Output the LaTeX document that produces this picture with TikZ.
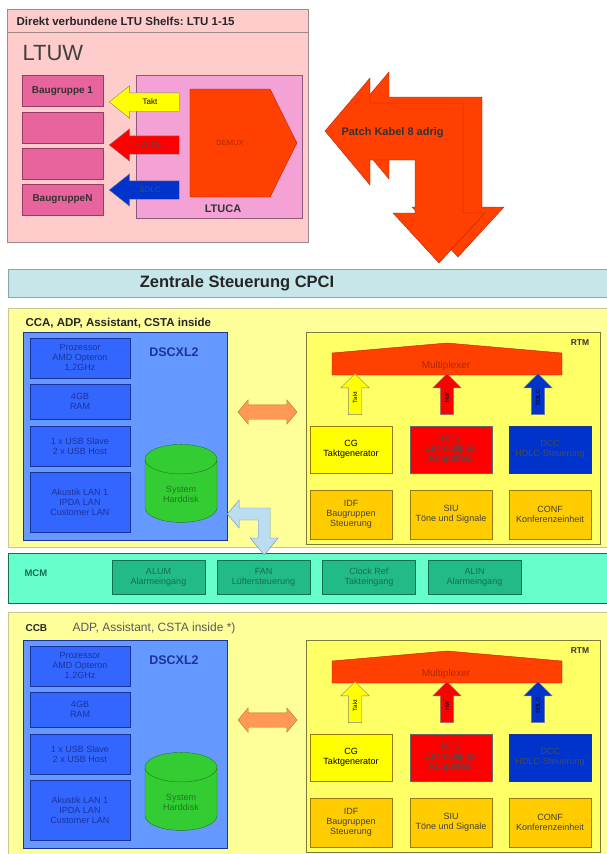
\documentclass[tikz,border=0pt]{standalone}
\usepackage{fontspec}
\setmainfont{Liberation Sans}
\usepackage{xcolor}
\usepackage{tikz}
\usetikzlibrary{shapes.geometric, shapes.arrows, shapes.symbols, calc}
\definecolor{ltupink}{HTML}{FFCCCC}
\definecolor{ltuline}{HTML}{A08888}
\definecolor{bgpink}{HTML}{E8649C}
\definecolor{bgline}{HTML}{9C3A66}
\definecolor{ucapink}{HTML}{F4A2D6}
\definecolor{ucaline}{HTML}{8C5A7C}
\definecolor{hotred}{HTML}{FF4000}
\definecolor{hotline}{HTML}{B02800}
\definecolor{taktyel}{HTML}{FFFF00}
\definecolor{hwred}{HTML}{FF0000}
\definecolor{sdlcblue}{HTML}{0033CC}
\definecolor{cpcibg}{HTML}{C6E6EA}
\definecolor{cpciline}{HTML}{8AA6AC}
\definecolor{ccyel}{HTML}{FFFF99}
\definecolor{ccline}{HTML}{C8C890}
\definecolor{rtmyel}{HTML}{FFFF66}
\definecolor{rtmline}{HTML}{7A7A3A}
\definecolor{dsclight}{HTML}{6699FF}
\definecolor{dscdark}{HTML}{3366FF}
\definecolor{dscline}{HTML}{1A3399}
\definecolor{hddgreen}{HTML}{33CC33}
\definecolor{hddline}{HTML}{1E7A1E}
\definecolor{orarrow}{HTML}{FF9955}
\definecolor{orline}{HTML}{B86A30}
\definecolor{lbarrow}{HTML}{BCDDF0}
\definecolor{lbline}{HTML}{6F8FA0}
\definecolor{funcorange}{HTML}{FFCC00}
\definecolor{funcline}{HTML}{9A7A10}
\definecolor{mcmbg}{HTML}{66FFCC}
\definecolor{mcmdark}{HTML}{22BB88}
\definecolor{mcmline}{HTML}{146E50}
\frenchspacing

\begin{document}
\begin{tikzpicture}[x=1pt, y=-1pt,
    tiny/.style={font=\fontsize{9}{10}\selectfont},
    box/.style={draw, rectangle, inner sep=1pt, align=center, tiny},
    cpu/.style={box, fill=dscdark, draw=dscline, text=dscline, minimum width=100},
    rtmbox/.style={box, minimum width=82},
    mcmbox/.style={box, fill=mcmdark, draw=mcmline, text=mcmline, minimum width=93, minimum height=34},
    bgr/.style={box, fill=bgpink, draw=bgline, text=black!80, minimum width=81, minimum height=31,
        font=\bfseries\fontsize{10}{11}\selectfont},
    lefthead/.style={single arrow, shape border rotate=180, draw, minimum height=70,
        single arrow head extend=7pt, single arrow tip angle=77, inner xsep=2pt,
        text height=5.5pt, text depth=1.5pt, inner ysep=5.5pt, font=\fontsize{8}{8}\selectfont},
    uphead/.style={single arrow, rotate=90, draw, minimum height=41,
        single arrow head extend=7.5pt, inner xsep=1pt, text height=4.5pt, text depth=0.5pt,
        inner ysep=4pt, font=\fontsize{6}{6}\selectfont},
    twohead/.style={double arrow, draw=orline, fill=orarrow, minimum height=59,
        double arrow head extend=5pt, double arrow tip angle=100, inner sep=0pt, inner ysep=7pt},
    title/.style={font=\bfseries\fontsize{#1}{#1}\selectfont}
  ]
\useasboundingbox (0,0) rectangle (607,854);

% LTUW Shelf
\node[draw=ltuline, fill=ltupink, rectangle, minimum width=301, minimum height=233] (ltuw) at (157.5,125.5) {};
\draw[ltuline] (ltuw.west |- 0,32) -- (ltuw.east |- 0,32);
\node[title=11.5, anchor=west, text=black!85] (ltuhead) at (13,21) {Direkt verbundene LTU Shelfs: LTU 1-15};
\node[font=\fontsize{22}{22}\selectfont, anchor=west, text=black!75] (ltutitle) at (19,53) {LTUW};

% Baugruppen
\node[bgr] (bg1) at (62.5,91) {Baugruppe 1};
\node[bgr] (bg2) at (62.5,127.5) {};
\node[bgr] (bg3) at (62.5,163.5) {};
\node[bgr] (bgN) at (62.5,199.5) {BaugruppeN};

% LTUCA
\node[draw=ucaline, fill=ucapink, rectangle, minimum width=166, minimum height=143] (ltuca) at (219,146.5) {};
\node[title=11, text=black!80] (ltucalab) at (223,209) {LTUCA};
\node[signal, signal to=east, signal pointer angle=127, draw=hotline, fill=hotred,
      minimum width=107, minimum height=108, inner sep=0pt, font=\fontsize{7.5}{8}\selectfont,
      text=hotline] (demux) at (230,143) {DEMUX};
\node[lefthead, fill=taktyel, draw=black!50] (ltakt) at (150,102) {Takt};
\node[lefthead, fill=hwred, draw=black!50, text=black!70] (lhw) at (150,145) {HW TSL};
\node[lefthead, fill=sdlcblue, draw=black!50, text=black!70] (lsdlc) at (150,190) {SDLC};

% Patch Kabel
\foreach \sx/\sy in {19/-6, 0/0}
  \filldraw[fill=hotred, draw=hotline, shift={(\sx,\sy)}]
    (325,131) -- (370,78) -- (370,103) -- (463,103) -- (463,213) -- (485,213) -- (439,263)
    -- (393,213) -- (415,213) -- (415,160) -- (370,160) -- (370,185) -- cycle;
\node[title=11, anchor=west, text=black!80] (patch) at (338,133) {Patch Kabel 8 adrig};

% Zentrale Steuerung
\node[draw=cpciline, fill=cpcibg, rectangle, minimum width=612, minimum height=28] (cpci) at (314,283) {};
\node[title=16.5, text=black!85] (cpcilab) at (237,283) {Zentrale Steuerung CPCI};

% CCA / CCB / MCM
\node[draw=ccline, fill=ccyel, rectangle, minimum width=612, minimum height=239] (cca) at (314,427.5) {};
\node[draw=mcmline, fill=mcmbg, rectangle, minimum width=612, minimum height=50] (mcm) at (314,578) {};
\node[draw=ccline, fill=ccyel, rectangle, minimum width=612, minimum height=270] (ccb) at (314,747) {};

\node[title=11.5, anchor=west, text=black!85] (ccalab) at (22,323) {CCA, ADP, Assistant, CSTA inside};
\node[title=10, anchor=west, text=black!85] (ccblab) at (22,628) {CCB};
\node[font=\fontsize{12}{12}\selectfont, anchor=west, text=black!65] (ccbtxt) at (69,628) {ADP, Assistant, CSTA inside *)};

\foreach \s/\dy in {a/0, b/308}{
  \begin{scope}[shift={(0,\dy)}]
    % DSCXL2
    \node[draw=dscline, fill=dsclight, rectangle, minimum width=204, minimum height=208] (dsc\s) at (125,436) {};
    \node[title=12.5, text=dscline] (dsclab\s) at (174,352) {DSCXL2};
    \node[cpu, minimum height=40] (cpu\s) at (80,358) {Prozessor\\AMD Opteron\\1,2GHz};
    \node[cpu, minimum height=35] (ram\s) at (80,401.5) {4GB\\RAM};
    \node[cpu, minimum height=40] (usb\s) at (80,446) {1 x USB Slave\\2 x USB Host};
    \node[cpu, minimum height=60] (lan\s) at (80,502) {Akustik LAN 1\\IPDA LAN\\Customer LAN};
    \node[cylinder, shape border rotate=90, aspect=0.7, draw=hddline, fill=hddgreen,
          minimum width=72, minimum height=78, align=center, tiny, text=hddline] (hdd\s) at (181,494) {System\\Harddisk};
    \node[twohead] (bus\s) at (267.5,412) {};

    % RTM
    \node[draw=rtmline, fill=rtmyel, rectangle, minimum width=294, minimum height=212] (rtm\s) at (453,438) {};
    \node[title=8.5, text=black!80] (rtmlab\s) at (580,343) {RTM};
    \filldraw[fill=hotred, draw=hotline] (332,353) -- (447,343) -- (562,353) -- (562,375) -- (332,375) -- cycle;
    \node[font=\fontsize{10}{10}\selectfont, text=hotline] (mux\s) at (446,366) {Multiplexer};
    \node[uphead, fill=taktyel, draw=black!50] (utakt\s) at (355,397.5) {Takt};
    \node[uphead, fill=hwred, draw=black!50] (uhw\s) at (447,397.5) {HW};
    \node[uphead, fill=sdlcblue, draw=black!50] (usdlc\s) at (538,397.5) {SDLC};
    \node[rtmbox, fill=taktyel, draw=funcline, minimum height=47] (cg\s) at (351,449.5) {CG\\Taktgenerator};
    \node[rtmbox, fill=hwred, draw=black!60, text=black!70, minimum height=47] (mts\s) at (451,449.5) {MTS\\Zeitmultiplex\\Koppelfeld};
    \node[rtmbox, fill=sdlcblue, draw=dscline, text=black!70, minimum height=47] (dcc\s) at (550,449.5) {DCC\\HDLC-Steuerung};
    \node[rtmbox, fill=funcorange, draw=funcline, text=black!75, minimum height=49] (idf\s) at (351,514.5) {IDF\\Baugruppen\\Steuerung};
    \node[rtmbox, fill=funcorange, draw=funcline, text=black!75, minimum height=49] (siu\s) at (451,514.5) {SIU\\Töne und Signale};
    \node[rtmbox, fill=funcorange, draw=funcline, text=black!75, minimum height=49] (conf\s) at (550,514.5) {CONF\\Konferenzeinheit};
  \end{scope}
}

% DSCXL2 -- MCM
\coordinate (lbtip) at (dsca.east |- 0,514);
\filldraw[fill=lbarrow, draw=lbline] (lbtip) -- ++(12,-14) -- ++(0,8) -- ++(31,0) -- ++(0,30)
  -- ++(8,0) -- ++(-14,17) -- ++(-14,-17) -- ++(8,0) -- ++(0,-18) -- ++(-19,0) -- ++(0,8) -- cycle;

% MCM
\node[title=9.5, anchor=west, text=mcmline] (mcmlab) at (21,573) {MCM};
\node[mcmbox] (alum) at (158.5,577) {ALUM\\Alarmeingang};
\node[mcmbox] (fan) at (263.5,577) {FAN\\Lüftersteuerung};
\node[mcmbox] (clk) at (369,577) {Clock Ref\\Takteingang};
\node[mcmbox] (alin) at (474.5,577) {ALIN\\Alarmeingang};
\end{tikzpicture}
\end{document}
